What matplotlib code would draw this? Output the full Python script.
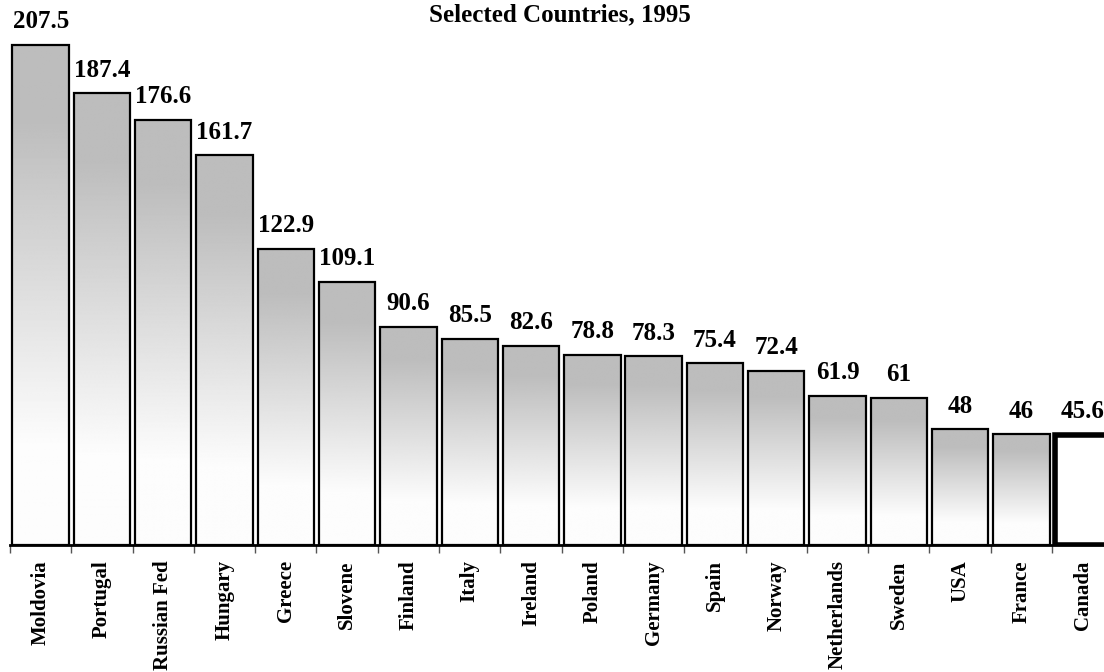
import numpy as np
import matplotlib
matplotlib.use("Agg")
import matplotlib.pyplot as plt

countries = ['Moldovia', 'Portugal', 'Russian Fed', 'Hungary', 'Greece', 'Slovene',
             'Finland', 'Italy', 'Ireland', 'Poland', 'Germany', 'Spain', 'Norway',
             'Netherlands', 'Sweden', 'USA', 'France', 'Canada']
values = [207.5, 187.4, 176.6, 161.7, 122.9, 109.1, 90.6, 85.5, 82.6, 78.8, 78.3,
          75.4, 72.4, 61.9, 61, 48, 46, 45.6]
value_labels = ['207.5', '187.4', '176.6', '161.7', '122.9', '109.1', '90.6', '85.5',
                '82.6', '78.8', '78.3', '75.4', '72.4', '61.9', '61', '48', '46', '45.6']
highlight = 'Canada'

plt.rcParams['font.family'] = ['Liberation Serif', 'DejaVu Serif']

fig = plt.figure(figsize=(11.04, 6.72), dpi=100)
ax = fig.add_axes([10 / 1104, 127 / 672, 1094 / 1104, 545 / 672])

x = np.arange(len(countries))
bars = ax.bar(x, values, width=0.92, color='none', edgecolor='black', linewidth=1.6, zorder=3)

# vertical gradient: gray in the upper part, fading to white towards the bottom
t = np.linspace(0, 1, 512)
ramp = np.clip((t - 0.15) / 0.65, 0, 1)
grad = (0.74 + 0.25 * ramp).reshape(-1, 1)
for name, b in zip(countries, bars):
    if name == highlight:
        b.set_facecolor('white')
        b.set_linewidth(4)
        continue
    x0, w, h = b.get_x(), b.get_width(), b.get_height()
    im = ax.imshow(grad, cmap='gray', vmin=0, vmax=1, aspect='auto',
                   extent=(x0, x0 + w, 0, h), origin='upper', zorder=2,
                   interpolation='bilinear')
    im.set_clip_path(b)

for xi, v, lab in zip(x, values, value_labels):
    ax.annotate(lab, (xi, v), xytext=(0, 12), textcoords='offset points',
                ha='center', va='baseline', fontsize=18, fontweight='bold')

ax.set_xticks(x)
ax.set_xticklabels(countries, rotation=90, fontsize=15, fontweight='bold', va='top')
ax.tick_params(axis='x', which='major', length=0, pad=11)
ax.set_xticks(np.arange(-0.5, len(countries) + 0.5), minor=True)
ax.tick_params(axis='x', which='minor', length=6, width=1, color='#555555')
ax.set_yticks([])

# limits after the ticks, so the tick list does not widen the view
ax.set_xlim(-0.5, -0.5 + 1094 / 61.3)
ax.set_ylim(0, 226.2)

for s in ['top', 'right', 'left']:
    ax.spines[s].set_visible(False)
ax.spines['bottom'].set_linewidth(2)
ax.spines['bottom'].set_zorder(4)

fig.text(560 / 1104, 1 - 3 / 672, 'Selected Countries, 1995', ha='center', va='top',
         fontsize=18, fontweight='bold')

fig.savefig('out.png', dpi=100)
